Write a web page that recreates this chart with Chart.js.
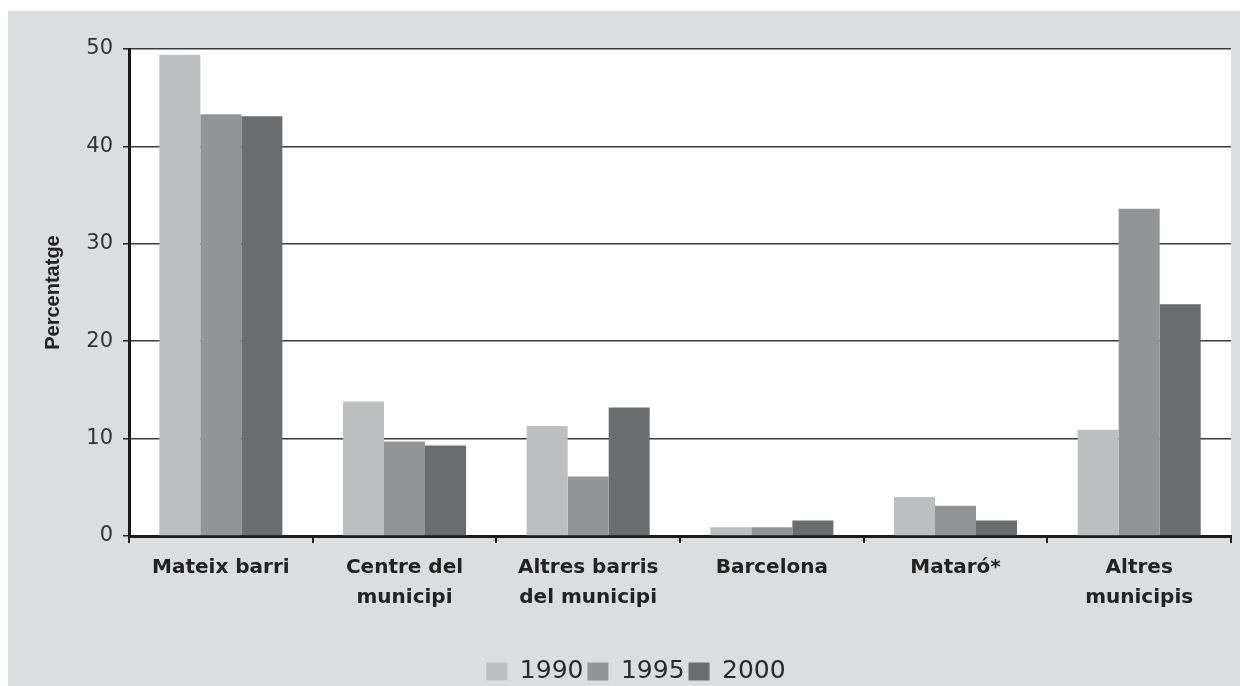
<!DOCTYPE html>
<html>
<head>
<meta charset="utf-8">
<script src="https://cdn.jsdelivr.net/npm/chart.js"></script>
<style>
  body { margin: 0; background: #ffffff; }
  #wrap { position: absolute; left: 8px; top: 11px; width: 1232px; height: 675px; background: #dcdddf; }
</style>
</head>
<body>
<div id="wrap"><canvas id="myChart" width="1232" height="675"></canvas></div>
<script>
var categories = [
    ['Mateix barri'],
    ['Centre del', 'municipi'],
    ['Altres barris', 'del municipi'],
    ['Barcelona'],
    ['Mataró*'],
    ['Altres', 'municipis']
];
var years = ['1990', '1995', '2000'];
var values1990 = [49.4, 13.8, 11.3, 0.9, 4.0, 10.9];
var values1995 = [43.3, 9.7, 6.1, 0.9, 3.1, 33.6];
var values2000 = [43.1, 9.3, 13.2, 1.6, 1.6, 23.8];

// white plot area on the grey panel
var plotBackground = {
    id: 'plotBackground',
    beforeDraw: function (chart) {
        var a = chart.chartArea;
        var c = chart.ctx;
        c.save();
        c.fillStyle = '#ffffff';
        c.fillRect(a.left, a.top, a.right - a.left, a.bottom - a.top);
        c.restore();
    }
};

var ctx = document.getElementById('myChart').getContext('2d');
var myChart = new Chart(ctx, {
    type: 'bar',
    data: {
        labels: categories,
        datasets: [
            {
                label: years[0],
                data: values1990,
                backgroundColor: '#bdbec0'
            },
            {
                label: years[1],
                data: values1995,
                backgroundColor: '#939498'
            },
            {
                label: years[2],
                data: values2000,
                backgroundColor: '#6b6c70'
            }
        ]
    },
    options: {
        responsive: false,
        animation: false,
        devicePixelRatio: 1,
        layout: {
            padding: { left: 33, right: 9, top: 38, bottom: -8 }
        },
        datasets: {
            bar: {
                categoryPercentage: 0.67,
                barPercentage: 1.0
            }
        },
        plugins: {
            tooltip: { enabled: false },
            legend: {
                position: 'bottom',
                labels: {
                    boxWidth: 21,
                    boxHeight: 18,
                    padding: 4,
                    color: '#2a2a2a',
                    font: { family: 'DejaVu Sans', size: 25 }
                }
            }
        },
        scales: {
            x: {
                grid: {
                    drawOnChartArea: false,
                    drawTicks: true,
                    tickLength: 7,
                    tickColor: '#222222',
                    lineWidth: 2
                },
                border: { color: '#1a1a1a', width: 3 },
                ticks: {
                    color: '#222222',
                    padding: 10,
                    maxRotation: 0,
                    font: { family: 'DejaVu Sans', size: 20, weight: 'bold', lineHeight: 1.5 }
                },
                afterFit: function (scale) { scale.height = 119; }
            },
            y: {
                min: 0,
                max: 50,
                ticks: {
                    stepSize: 10,
                    padding: 10,
                    color: '#333333',
                    font: { family: 'DejaVu Sans', size: 21 }
                },
                grid: {
                    color: '#3a3a3a',
                    lineWidth: 1.5,
                    tickLength: 6,
                    tickColor: '#222222'
                },
                border: { color: '#1a1a1a', width: 3 },
                title: {
                    display: true,
                    text: 'Percentatge',
                    color: '#222222',
                    padding: 0,
                    font: { family: 'Liberation Sans', size: 20, weight: 'bold' }
                },
                afterFit: function (scale) { scale.width = 88; }
            }
        }
    },
    plugins: [plotBackground]
});
</script>
</body>
</html>
